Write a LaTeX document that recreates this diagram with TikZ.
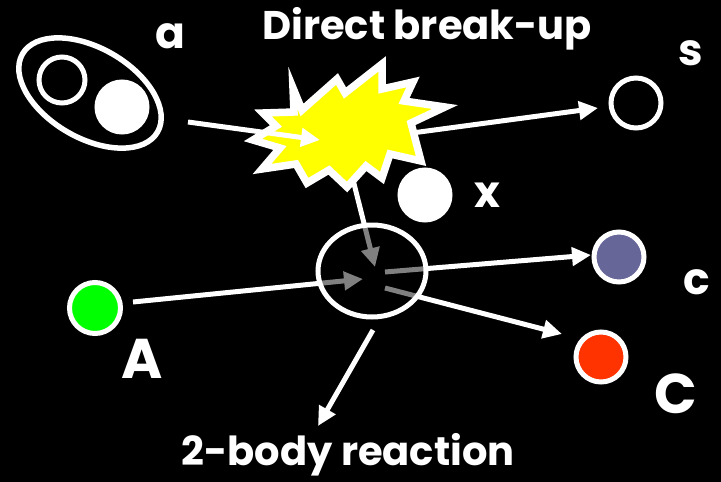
\documentclass[tikz,border=0pt]{standalone}
\usepackage{fontspec}
\setmainfont{Poppins}
\usetikzlibrary{arrows.meta}
\definecolor{mygray}{HTML}{808080}
\definecolor{burstyellow}{HTML}{FFFF00}
\definecolor{cpurple}{HTML}{666699}
\definecolor{cred}{HTML}{FF3300}
\definecolor{agreen}{HTML}{00FF00}
\tikzset{
  ball/.style={circle, draw=white, line width=5pt, inner sep=0pt, minimum size=#1},
  conn/.style={draw=white, line width=5pt, -{Triangle[length=19pt,width=18pt]}},
  plain/.style={draw=white, line width=5pt},
  lbl/.style={text=white, font=\bfseries\fontsize{44}{46}\selectfont, inner sep=0pt},
  biglbl/.style={text=white, font=\bfseries\fontsize{56}{58}\selectfont, inner sep=0pt},
  title/.style={text=white, font=\bfseries\fontsize{40}{44}\selectfont, inner sep=0pt},
}
\begin{document}
\begin{tikzpicture}[x=1pt,y=-1pt]
  \fill[black] (0,0) rectangle (721,482);
  \useasboundingbox (0,0) rectangle (721,482);

  % projectile a: cluster of two particles inside an ellipse
  \draw[plain, line width=5.5pt] (90,93) ellipse[x radius=78, y radius=45, rotate=-30];
  \node[ball=46pt] (core) at (62,80) {};
  \node[ball=50pt, fill=white] (frag) at (122,107) {};
  \node[lbl] (la) at (170,36) {a};

  % end points of the connectors
  \coordinate (aout) at (188,122);
  \coordinate (bin) at (320,140);
  \coordinate (bout) at (412,133);
  \coordinate (bdown) at (346,152);
  \coordinate (vin1) at (375,267);
  \coordinate (vin2) at (363,279);
  \coordinate (vout1) at (385,272);
  \coordinate (vout2) at (385,288);
  \coordinate (vbot) at (373,330);
  \coordinate (tend) at (318,426);
  \coordinate (aleft) at (133,302);
  \coordinate (ctip) at (591,255);
  \coordinate (Ctip) at (562,334);
  \coordinate (stip) at (598,108);

  % break-up goes down into the reaction vertex
  \draw[conn] (bdown) -- (vin1);

  % the break-up burst
  \draw[white, line width=7.5pt, fill=burstyellow, line join=miter]
    (293,88) -- (302,110) -- (337,79) -- (345,93) -- (382,64) -- (382,89)
    -- (413,82) -- (404,101) -- (445,107) -- (411,123) -- (421,161)
    -- (390,154) -- (382,178) -- (366,166) -- (347,187) -- (329,170)
    -- (307,183) -- (296,164) -- (262,169) -- (280,148) -- (253,140)
    -- (276,126) -- (263,113) -- (294,112) -- cycle;

  \draw[conn] (aout) -- (bin);
  \draw[conn] (bout) -- (stip);

  % spectator s and participant x
  \node[ball=50pt] (s) at (636,103) {};
  \node[lbl] (ls) at (691,53) {s};
  \node[ball=50pt, fill=white] (x) at (425,195) {};
  \node[lbl] (lx) at (487,195) {x};

  % target A and the outgoing pair
  \node[ball=51pt, fill=agreen] (A) at (95,308) {};
  \node[biglbl] (lA) at (142,359) {A};
  \node[ball=50pt, fill=cpurple] (c) at (619,257) {};
  \node[lbl] (lc) at (697,282) {c};
  \node[ball=50pt, fill=cred] (C) at (601,357) {};
  \node[biglbl] (lC) at (676,394) {C};

  \draw[conn] (aleft) -- (vin2);
  \draw[conn] (vout1) -- (ctip);
  \draw[conn] (vout2) -- (Ctip);

  % inside the vertex the lines turn gray
  \begin{scope}
    \clip (372,271) ellipse[x radius=54, y radius=46];
    \fill[black] (372,271) ellipse[x radius=54, y radius=46];
    \draw[conn, draw=mygray, fill=mygray] (bdown) -- (vin1);
    \draw[conn, draw=mygray, fill=mygray] (aleft) -- (vin2);
    \draw[plain, draw=mygray] (vout1) -- (ctip);
    \draw[plain, draw=mygray] (vout2) -- (Ctip);
  \end{scope}
  \draw[plain] (372,271) ellipse[x radius=54, y radius=46];

  \draw[conn] (vbot) -- (tend);

  \node[title] (t1) at (427,29) {Direct break-up};
  \node[title] (t2) at (348,455) {2-body reaction};
\end{tikzpicture}
\end{document}
